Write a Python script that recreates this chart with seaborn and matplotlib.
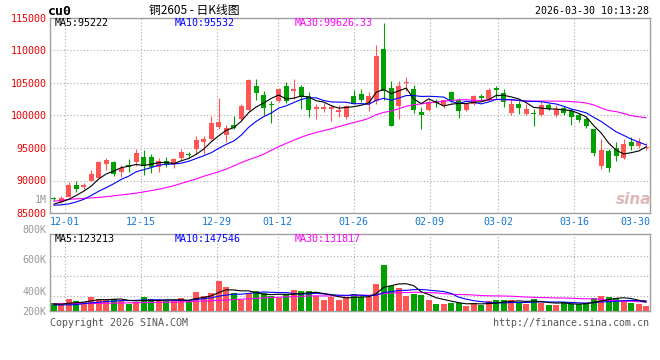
import matplotlib
matplotlib.use("Agg")
import matplotlib.pyplot as plt
import numpy as np
import pandas as pd
import seaborn as sns

# ---------------- data ----------------
opens = [87200, 86700, 87500, 89350, 89050, 90000, 90450, 92500, 92900, 91250,
         92350, 92800, 93600, 93600, 92150, 92950, 92500, 93400, 94050, 94800,
         95950, 96450, 98300, 97000, 98600, 99400, 100800, 104600, 103200, 101800,
         102300, 104600, 103750, 104450, 103050, 101050, 101050, 100950, 100500, 99800,
         102950, 103300, 101950, 102300, 110300, 104300, 101400, 104950, 104100, 100500,
         100900, 102250, 101550, 103600, 102450, 100900, 101800, 102950, 102600, 104300,
         103400, 100400, 101700, 100300, 100400, 100150, 101550, 100000, 101200, 100650,
         100150, 99500, 97950, 92250, 94550, 94950, 93400, 95950, 95250, 95000]
highs = [87400, 87550, 89700, 89950, 89550, 91550, 93000, 93400, 93000, 92400,
         93250, 94800, 94650, 94050, 93400, 93600, 93500, 94900, 94450, 96850,
         96800, 99850, 102750, 98550, 99900, 101700, 105650, 105550, 103750, 102200,
         104300, 105100, 105650, 104750, 103600, 101700, 101950, 101550, 101550, 101550,
         103950, 104100, 103550, 110900, 114250, 105250, 105250, 105900, 104700, 101250,
         102450, 102550, 102450, 103800, 102700, 102100, 103200, 103300, 104200, 104600,
         104050, 102500, 102250, 101700, 100950, 102050, 101950, 101550, 101450, 101050,
         100400, 99800, 98000, 96350, 94800, 96000, 96350, 96700, 96550, 95750]
lows = [86800, 86550, 87400, 88200, 88700, 89900, 90400, 91600, 90700, 90600,
        91350, 92200, 90800, 91200, 91300, 92100, 91850, 93150, 93450, 94050,
        94150, 96250, 97850, 95900, 97850, 99250, 100650, 102350, 100000, 98900,
        102000, 101900, 102500, 100950, 99700, 99500, 100500, 99150, 99800, 99500,
        101700, 102100, 100700, 101700, 102450, 98400, 99400, 103700, 100400, 97850,
        100650, 101300, 101150, 102100, 99650, 100650, 101570, 102280, 102300, 102700,
        101350, 100150, 100300, 100000, 98350, 99900, 100800, 99800, 100000, 98600,
        99000, 98100, 93700, 91700, 91350, 93050, 93250, 94700, 95000, 94700]
closes = [87150, 87350, 89250, 88750, 89300, 91050, 92850, 93100, 90950, 91950,
          92150, 94200, 92250, 92100, 93000, 92400, 93250, 94400, 93900, 96200,
          96450, 98800, 99050, 98150, 98150, 101450, 105450, 103400, 101200, 101650,
          104100, 102300, 104100, 102850, 100800, 101300, 101300, 101300, 100900, 101450,
          101800, 102450, 103050, 109150, 103700, 98450, 104600, 105150, 100900, 100050,
          102100, 101900, 102350, 102300, 100650, 101950, 102950, 102700, 103950, 103900,
          102050, 101700, 101150, 101050, 100250, 101550, 101050, 101050, 100400, 99800,
          99250, 98450, 94300, 94700, 92000, 93800, 95650, 95250, 96000, 95200]
ma5 = [86370, 86700, 87100, 87700, 88360, 89140, 90240, 91010, 91450, 91980,
       92200, 92470, 92300, 92530, 92740, 92790, 92600, 93030, 93390, 94030,
       94840, 95950, 96880, 97730, 98120, 99120, 100450, 101320, 101930, 102630,
       103160, 102530, 102670, 103000, 102830, 102270, 102070, 101510, 101120, 101250,
       101350, 101580, 101930, 103580, 104030, 103360, 103790, 104210, 102560, 101830,
       102560, 102020, 101460, 101740, 101860, 101830, 102040, 102110, 102440, 103090,
       103110, 102860, 102550, 101970, 101240, 101140, 101010, 100990, 100860, 100770,
       100310, 99790, 98440, 97300, 95740, 94650, 94090, 94280, 94540, 95180]
ma10 = [86200, 86250, 86400, 86700, 87100, 87700, 88350, 88900, 89500, 90170,
        90670, 91355, 91655, 91990, 92360, 92495, 92535, 92665, 92960, 93385,
        93815, 94275, 94955, 95560, 96075, 96980, 98200, 99100, 99830, 100375,
        101140, 101490, 101995, 102465, 102730, 102715, 102300, 102090, 102060, 102040,
        101810, 101825, 101720, 102350, 102640, 102355, 102685, 103070, 103070, 102930,
        102960, 102905, 102835, 102150, 101845, 102195, 102030, 101785, 102090, 102475,
        102470, 102450, 102330, 102205, 102165, 102125, 101935, 101770, 101415, 101005,
        100725, 100400, 99715, 99080, 98255, 97480, 96940, 96360, 95920, 95460]
ma30 = [86800, 86950, 87100, 87180, 87250, 87320, 87400, 87520, 87640, 87780,
        87920, 88060, 88250, 88450, 88650, 88900, 89200, 89550, 89900, 90250,
        90650, 91000, 91350, 91750, 92250, 92750, 93200, 93600, 94050, 94643,
        95208, 95707, 96202, 96672, 97055, 97397, 97678, 97952, 98283, 98600,
        98922, 99197, 99557, 100125, 100482, 100683, 101062, 101420, 101653, 101782,
        101970, 102073, 102183, 102322, 102405, 102422, 102338, 102315, 102407, 102482,
        102413, 102393, 102295, 102235, 102217, 102225, 102217, 102208, 102192, 102137,
        102052, 101918, 101627, 101145, 100755, 100600, 100302, 99972, 99808, 99647]
# volumes in thousands of lots
volumes = [109, 85, 170, 142, 123, 199, 170, 170, 170, 142,
           104, 132, 199, 170, 142, 142, 142, 189, 142, 270,
           218, 255, 426, 341, 255, 151, 255, 284, 251, 218,
           180, 246, 298, 284, 284, 218, 156, 199, 156, 203,
           241, 203, 203, 383, 653, 355, 326, 218, 241, 227,
           156, 99, 99, 118, 118, 76, 109, 85, 142, 151,
           151, 151, 123, 104, 170, 118, 85, 85, 123, 104,
           95, 114, 180, 218, 203, 184, 156, 118, 99, 71]
vma5 = [100, 95, 110, 118, 126, 144, 161, 161, 166, 170,
        151, 144, 149, 149, 149, 157, 159, 157, 151, 177,
        192, 215, 262, 302, 299, 286, 286, 257, 239, 232,
        238, 236, 239, 245, 258, 266, 248, 228, 203, 186,
        191, 200, 201, 247, 337, 359, 384, 387, 359, 273,
        234, 188, 164, 140, 118, 102, 104, 101, 106, 113,
        128, 136, 144, 136, 140, 133, 120, 112, 116, 103,
        98, 104, 123, 142, 162, 180, 188, 176, 152, 126]
vma10 = [85, 85, 88, 90, 105, 115, 125, 135, 140, 148,
         148, 152, 155, 158, 160, 154, 151, 153, 150, 163,
         175, 187, 210, 227, 238, 239, 250, 260, 271, 265,
         262, 261, 248, 242, 245, 252, 242, 233, 224, 222,
         229, 224, 215, 225, 262, 275, 292, 294, 303, 305,
         297, 286, 276, 249, 196, 168, 146, 133, 123, 115,
         115, 120, 122, 121, 126, 130, 128, 128, 126, 121,
         116, 112, 118, 129, 133, 139, 146, 150, 147, 144]
vma30 = [104, 104, 105, 105, 106, 107, 108, 110, 112, 114,
         116, 118, 120, 122, 123, 124, 126, 128, 132, 138,
         142, 146, 150, 156, 162, 168, 174, 180, 186, 192,
         195, 200, 204, 209, 214, 215, 214, 215, 215, 217,
         222, 224, 224, 231, 248, 255, 261, 262, 266, 264,
         262, 257, 246, 239, 234, 232, 227, 220, 216, 214,
         213, 210, 204, 198, 194, 191, 189, 185, 184, 181,
         176, 173, 172, 166, 151, 146, 140, 137, 132, 127]

date_labels = ["12-01", "12-15", "12-29", "01-12", "01-26", "02-09", "03-02", "03-16", "03-30"]
date_index = [2, 12, 22, 30, 40, 50, 59, 69, 79]
price_ticks = [85000, 90000, 95000, 100000, 105000, 110000, 115000]

title = "铜2605 - 日K线图"
symbol = "cu0"
stamp = "2026-03-30 10:13:28"
main_ma_text = ["MA5:95222", "MA10:95532", "MA30:99626.33"]
vol_ma_text = ["MA5:123213", "MA10:147546", "MA30:131817"]

# ---------------- styling ----------------
sns.set_style("white")
plt.rcParams["font.family"] = ["DejaVu Sans Mono", "DejaVu Sans"]
MONO = "DejaVu Sans Mono"
RED = "#FF5555"
GREEN = "#00A000"
GRID = "#AAAAAA"
BORDER = "#A0A0A0"
FS = 7.2
LW = 0.8

W, H = 660, 360
fig = plt.figure(figsize=(W / 100, H / 100), dpi=100)
fig.patch.set_facecolor("white")


def fx(x):
    return x / W


def fy(y):
    return 1 - y / H


ax1 = fig.add_axes([fx(50), fy(213), 600 / W, 195 / H])
ax2 = fig.add_axes([fx(50), fy(311), 600 / W, 76.7 / H])

n = len(closes)
idx = np.arange(n)
df = pd.DataFrame({"i": idx, "open": opens, "high": highs, "low": lows,
                   "close": closes, "vol": volumes, "ma5": ma5, "ma10": ma10,
                   "ma30": ma30, "vma5": vma5, "vma10": vma10, "vma30": vma30})
up = df["close"] >= df["open"]
colors = np.where(up, RED, GREEN)

# grid positions for date labels (spread over the full width)
grid_x = [-0.5 + k * 80 / 79 for k in date_index]

for ax in (ax1, ax2):
    ax.set_xlim(-0.5, 79.5)
    ax.set_axisbelow(True)
    for s in ax.spines.values():
        s.set_color(BORDER)
        s.set_linewidth(1.0)
    ax.tick_params(length=0)

# ---- main panel ----
ax1.set_ylim(85000, 115000)
ax1.vlines(df["i"], df["low"], df["high"], colors=colors, linewidth=0.8, zorder=2)
body_bottom = np.minimum(df["open"], df["close"])
body_h = np.maximum(np.abs(df["close"] - df["open"]), 120)
ax1.bar(df["i"], body_h, bottom=body_bottom, width=0.7, color=colors, linewidth=0, zorder=3)
sns.lineplot(data=df, x="i", y="ma30", ax=ax1, color="#FF00FF", linewidth=LW, zorder=4, legend=False)
sns.lineplot(data=df, x="i", y="ma10", ax=ax1, color="#0000FF", linewidth=LW, zorder=5, legend=False)
sns.lineplot(data=df, x="i", y="ma5", ax=ax1, color="black", linewidth=LW, zorder=6, legend=False)

ax1.set_yticks(price_ticks)
ax1.set_yticklabels([str(t) for t in price_ticks], color="#EE0000", fontsize=FS, family=MONO)
ax1.tick_params(axis="y", pad=2.4)
ax1.set_xticks(grid_x)
ax1.set_xticklabels(date_labels, color="#1478D2", fontsize=FS, family=MONO)
ax1.tick_params(axis="x", pad=3)
lbls = ax1.get_xticklabels()
lbls[-1].set_ha("right")
ax1.grid(True, color=GRID, linestyle=(0, (1, 2)), linewidth=0.8)
ax1.set_xlabel("")
ax1.set_ylabel("")

# ---- volume panel ----
ax2.set_ylim(0, 1089)
ax2.bar(df["i"], df["vol"], width=0.8, color=colors, linewidth=0, zorder=3)
sns.lineplot(data=df, x="i", y="vma30", ax=ax2, color="#FF00FF", linewidth=LW, zorder=4, legend=False)
sns.lineplot(data=df, x="i", y="vma10", ax=ax2, color="#0000FF", linewidth=LW, zorder=5, legend=False)
sns.lineplot(data=df, x="i", y="vma5", ax=ax2, color="black", linewidth=LW, zorder=6, legend=False)
ax2.set_xticks(grid_x)
ax2.set_xticklabels([])
ax2.set_yticks([0, 284, 743])
ax2.set_yticklabels(["200K", "400K", "600K"], color="#999999", fontsize=FS, family=MONO)
ax2.tick_params(axis="y", pad=2.4)
ax2.set_yticks([217, 501, 785], minor=True)
ax2.tick_params(which="minor", length=0)
ax2.xaxis.grid(True, color=GRID, linestyle=(0, (1, 2)), linewidth=0.8)
ax2.yaxis.grid(True, which="minor", color=GRID, linestyle=(0, (1, 2)), linewidth=0.8)
ax2.set_xlabel("")
ax2.set_ylabel("")

# ---- texts ----
fig.text(fx(194.5), fy(10.5), title, ha="center", va="center", fontsize=8.5,
         family=["Noto Sans CJK SC", "DejaVu Sans"], color="black")
fig.text(fx(48), fy(11.5), symbol, ha="left", va="center", fontsize=9.5,
         fontweight="bold", family=MONO, color="black")
fig.text(fx(649), fy(11.3), stamp, ha="right", va="center", fontsize=FS, family=MONO, color="black")

for txt, x, c in zip(main_ma_text, [54.3, 174.3, 295], ["black", "#0000FF", "#FF00FF"]):
    fig.text(fx(x), fy(23.5), txt, ha="left", va="center", fontsize=FS, family=MONO, color=c)
for txt, x, c in zip(vol_ma_text, [54.3, 174.3, 295], ["black", "#0000FF", "#FF00FF"]):
    fig.text(fx(x), fy(238.7), txt, ha="left", va="center", fontsize=FS, family=MONO, color=c)

fig.text(fx(46.7), fy(200), "1M", ha="right", va="center", fontsize=FS, family=MONO, color="#999999")
fig.text(fx(46.7), fy(230), "800K", ha="right", va="center", fontsize=FS, family=MONO, color="#999999")

fig.text(fx(50), fy(323.5), "Copyright 2026 SINA.COM", ha="left", va="center", fontsize=FS,
         family=MONO, color="#555555")
fig.text(fx(649), fy(323.5), "http://finance.sina.com.cn", ha="right", va="center", fontsize=FS,
         family=MONO, color="#555555")

fig.text(fx(634), fy(199), "sina", ha="center", va="center", fontsize=11, style="italic",
         fontweight="bold", family="DejaVu Sans", color="#DDB8B8")

fig.savefig("out.png", dpi=100)
